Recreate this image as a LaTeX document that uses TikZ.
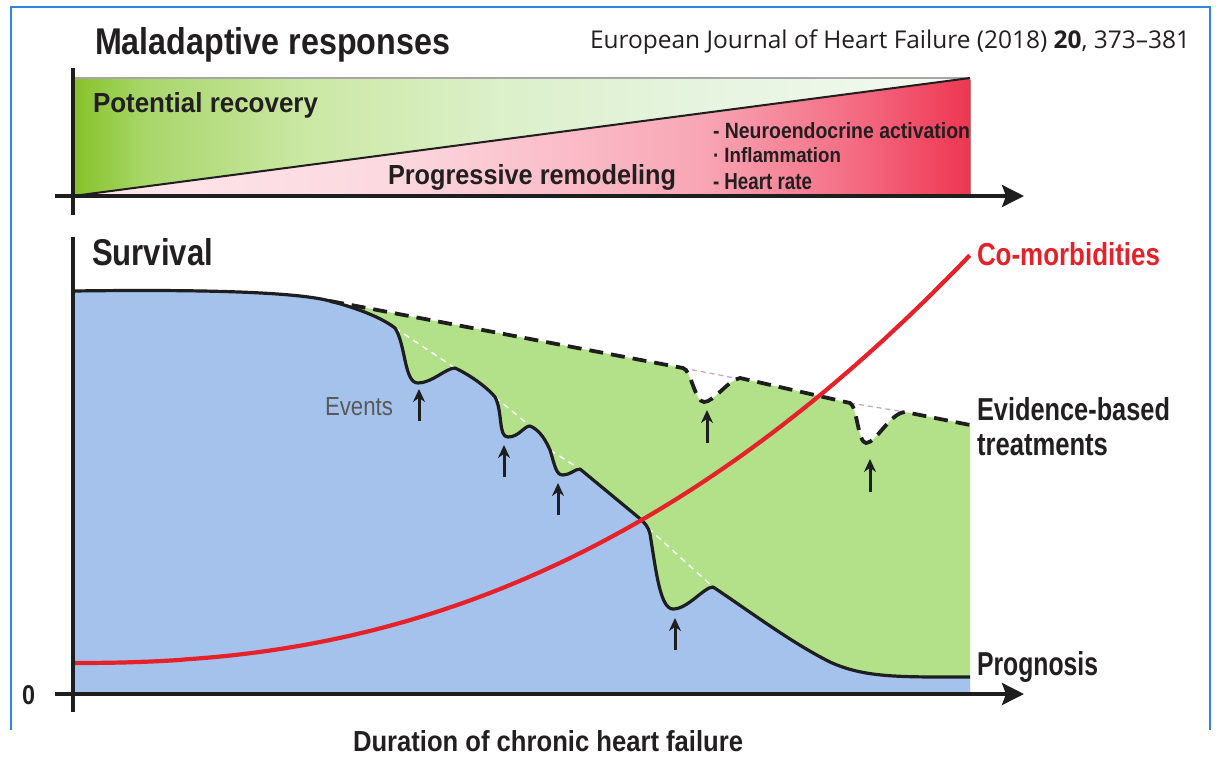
\documentclass[tikz,border=0pt]{standalone}
\usepackage{fontspec}
\setmainfont{Liberation Sans}
\newfontfamily\jfont{Open Sans}
\usepackage{graphicx}
\usetikzlibrary{arrows.meta}

\definecolor{framec}{HTML}{2E86DE}
\definecolor{axisc}{HTML}{1E1E1E}
\definecolor{txtc}{HTML}{231F20}
\definecolor{evc}{HTML}{58595B}
\definecolor{bluef}{HTML}{A4C2EB}
\definecolor{greenf}{HTML}{B3E18A}
\definecolor{redc}{HTML}{E62129}
\definecolor{pinkd}{HTML}{C9A0B4}
\definecolor{gA}{HTML}{86C228}
\definecolor{gB}{HTML}{A8D66A}
\definecolor{gC}{HTML}{CBE8A4}
\definecolor{gD}{HTML}{DCF0CA}
\definecolor{gE}{HTML}{E6F4DF}
\definecolor{gF}{HTML}{F4FAF1}
\definecolor{pA}{HTML}{FDE8EC}
\definecolor{pB}{HTML}{FCD8DF}
\definecolor{pC}{HTML}{F8A6B5}
\definecolor{pD}{HTML}{F47086}
\definecolor{pE}{HTML}{EE3652}

\pgfdeclarehorizontalshading{greensh}{100bp}{color(0bp)=(gA); color(25bp)=(gA); color(29bp)=(gB); color(38bp)=(gC); color(49bp)=(gD); color(60bp)=(gE); color(75bp)=(gF); color(100bp)=(gF)}
\pgfdeclarehorizontalshading{pinksh}{100bp}{color(0bp)=(pA); color(25bp)=(pA); color(43bp)=(pB); color(60bp)=(pC); color(68bp)=(pD); color(75bp)=(pE); color(100bp)=(pE)}

\newcommand{\fitb}[3]{\resizebox{#1pt}{#2pt}{\bfseries #3}}
\newcommand{\fitr}[3]{\resizebox{#1pt}{#2pt}{#3}}

\tikzset{
  lbl/.style={anchor=base west, inner sep=0pt, outer sep=0pt, text=txtc},
  axisline/.style={draw=axisc, line width=3.5pt},
  axisarrow/.style={draw=axisc, line width=3.5pt, -{Stealth[length=22pt,width=22pt,inset=4pt]}},
  evarrow/.style={draw=axisc, line width=3pt, -{Stealth[length=13pt,width=12pt]}},
  progline/.style={draw=axisc, line width=3.2pt, line join=round},
  ebtline/.style={draw=axisc, line width=3.8pt, dash pattern=on 14pt off 8pt},
  whitedash/.style={draw=white, line width=1.4pt, dash pattern=on 6pt off 5pt},
  pinkdash/.style={draw=pinkd, line width=1.2pt, dash pattern=on 5pt off 4pt},
  redline/.style={draw=redc, line width=4.2pt},
}

\def\progpath{(73,291) .. controls (220,289) and (300,293) .. (330,301)
 .. controls (360,309) and (382,318) .. (395,328)
 .. controls (406,345) and (404,383) .. (418,383)
 .. controls (432,383) and (446,368) .. (455,368)
 .. controls (468,374) and (486,386) .. (495,397)
 .. controls (503,412) and (498,437) .. (508,437)
 .. controls (519,437) and (524,426) .. (530,426)
 .. controls (540,430) and (546,441) .. (550,450)
 .. controls (555,466) and (556,475) .. (563,475)
 .. controls (570,475) and (575,469) .. (580,469)
 -- (638,517)
 .. controls (645,523) and (648,526) .. (650,534)
 .. controls (656,570) and (660,609) .. (673,609)
 .. controls (688,609) and (704,587) .. (713,587)
 .. controls (745,608) and (790,642) .. (830,662)
 .. controls (865,678) and (900,677) .. (970,677)}

\def\ebtpath{(330,301) -- (683,368)
 .. controls (691,370) and (695,402) .. (704,402)
 .. controls (714,402) and (728,380) .. (740,378)
 -- (850,403)
 .. controls (857,406) and (858,443) .. (866,443)
 .. controls (876,443) and (890,413) .. (905,412)
 -- (970,425)}

\begin{document}
\begin{tikzpicture}[x=1pt,y=-1pt]
\useasboundingbox (0,0) rectangle (1216,756);

% frame
\draw[framec, line width=1.5pt] (11,730) -- (11,7) -- (1210,7) -- (1210,730);

% ---------- top panel ----------
\shade[shading=greensh] (73,78) -- (970,78) -- (73,196) -- cycle;
\shade[shading=pinksh] (73,196) -- (970,78) -- (970,196) -- cycle;
\draw[gray!70, line width=2pt] (73,78) -- (970,78);
\draw[axisc, line width=2pt] (73,196) -- (970,78);
\draw[red!60!black, line width=0.8pt, opacity=0.5] (970,80) -- (970,196);

\coordinate (ta0) at (73,68);
\coordinate (ta1) at (73,215);
\coordinate (tx0) at (55,196);
\coordinate (tx1) at (1024,196);
\draw[axisline] (ta0) -- (ta1);
\draw[axisarrow] (tx0) -- (tx1);

% ---------- bottom panel ----------
\fill[greenf] \ebtpath -- (970,692) -- (330,692) -- cycle;
\fill[bluef] \progpath -- (970,692) -- (73,692) -- cycle;

\draw[whitedash] (395,328) -- (455,368);
\draw[whitedash] (495,397) -- (530,426);
\draw[whitedash] (550,450) -- (580,469);
\draw[whitedash] (648,528) -- (713,587);
\draw[pinkdash] (683,368) -- (740,379);
\draw[pinkdash] (850,403) -- (905,412);

\draw[progline] \progpath;
\draw[ebtline] \ebtpath;

\draw[redline] plot[domain=0.001:1, samples=120] ({73+897*\x}, {663-408*(\x^2.3)});

% event arrows
\coordinate (e1b) at (419,421); \coordinate (e1t) at (419,389);
\coordinate (e2b) at (504,477); \coordinate (e2t) at (504,445);
\coordinate (e3b) at (558,515); \coordinate (e3t) at (558,483);
\coordinate (e4b) at (707,443); \coordinate (e4t) at (707,410);
\coordinate (e5b) at (870,492); \coordinate (e5t) at (870,459);
\coordinate (e6b) at (675,650); \coordinate (e6t) at (675,618);
\draw[evarrow] (e1b) -- (e1t);
\draw[evarrow] (e2b) -- (e2t);
\draw[evarrow] (e3b) -- (e3t);
\draw[evarrow] (e4b) -- (e4t);
\draw[evarrow] (e5b) -- (e5t);
\draw[evarrow] (e6b) -- (e6t);

\coordinate (ba0) at (73,237);
\coordinate (ba1) at (73,712);
\coordinate (bx0) at (55,694);
\coordinate (bx1) at (1024,694);
\draw[axisline] (ba0) -- (ba1);
\draw[axisarrow] (bx0) -- (bx1);

% ---------- texts ----------
\node[lbl] (mal) at (95,54) {\fitb{355}{27}{Maladaptive responses}};
\node[lbl] (jour) at (590,48) {\resizebox{600pt}{!}{\jfont European Journal of Heart Failure (2018) \textbf{20}, 373–381}};
\node[lbl] (rec) at (93,112) {\fitb{225}{20}{Potential recovery}};
\node[lbl] (rem) at (388,184) {\fitb{288}{20}{Progressive remodeling}};
\node[lbl] (neu) at (713,138) {\fitb{257}{16}{- Neuroendocrine activation}};
\node[lbl] (inf) at (713,162) {\fitb{128}{15}{· Inflammation}};
\node[lbl] (hr) at (713,189) {\fitb{99}{16}{- Heart rate}};

\node[lbl] (surv) at (92,265) {\fitb{121}{27}{Survival}};
\node[lbl, text=evc] (ev) at (325,415) {\fitr{68}{18}{Events}};
\node[lbl, text=redc] (com) at (977,265) {\fitb{183}{23}{Co-morbidities}};
\node[lbl] (ebt1) at (977,420) {\fitb{193}{23}{Evidence-based}};
\node[lbl] (ebt2) at (977,455) {\resizebox{131pt}{21pt}{\bfseries treatments}};
\node[lbl] (prog) at (977,675) {\fitb{121}{24}{Prognosis}};
\node[lbl] (zero) at (22,704) {\fitb{13}{19}{0}};
\node[lbl] (dur) at (353,751) {\fitb{390}{21}{Duration of chronic heart failure}};
\end{tikzpicture}
\end{document}
